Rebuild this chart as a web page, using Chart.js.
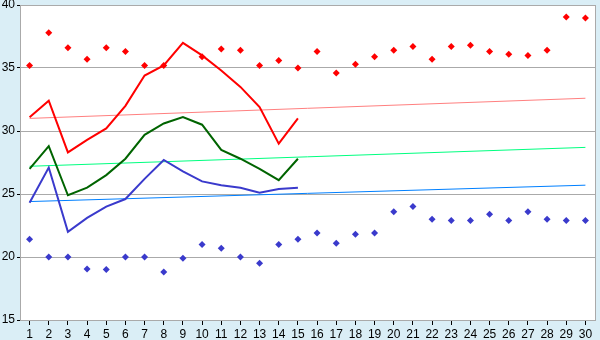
<!DOCTYPE html>
<html>
<head>
<meta charset="utf-8">
<script src="https://cdn.jsdelivr.net/npm/chart.js@4"></script>
<style>
  html, body { margin: 0; padding: 0; background: #DAEEF6; }
  #wrap { width: 600px; height: 340px; position: relative; }
</style>
</head>
<body>
<div id="wrap"><canvas id="c" width="600" height="340"></canvas></div>
<script>
const categories = ['1','2','3','4','5','6','7','8','9','10','11','12','13','14','15','16','17','18','19','20','21','22','23','24','25','26','27','28','29','30'];
const yTicks = [15, 20, 25, 30, 35, 40];

const redLine   = [31.1, 32.4, 28.3, 29.3, 30.2, 32.0, 34.4, 35.2, 37.0, 36.0, 34.8, 33.5, 31.9, 29.0, 31.0];
const greenLine = [27.0, 28.8, 24.9, 25.5, 26.5, 27.8, 29.7, 30.6, 31.1, 30.5, 28.5, 27.8, 27.0, 26.1, 27.8];
const blueLine  = [24.3, 27.1, 22.0, 23.1, 24.0, 24.6, 26.2, 27.7, 26.8, 26.0, 25.7, 25.5, 25.1, 25.4, 25.5];

const redPoints  = [35.2, 37.8, 36.6, 35.7, 36.6, 36.3, 35.2, 35.2, null, 35.9, 36.5, 36.4, 35.2, 35.6, 35.0,
                    36.3, 34.6, 35.3, 35.9, 36.4, 36.7, 35.7, 36.7, 36.8, 36.3, 36.1, 36.0, 36.4, 39.05, 38.97];
const bluePoints = [21.4, 20.0, 20.0, 19.05, 19.0, 20.0, 20.0, 18.8, 19.9, 21.0, 20.7, 20.0, 19.5, 21.0, 21.4,
                    21.9, 21.1, 21.8, 21.9, 23.6, 24.0, 23.0, 22.9, 22.9, 23.4, 22.9, 23.6, 23.0, 22.9, 22.9];

const redTrendEnds   = [31.0, 32.6];
const greenTrendEnds = [27.2, 28.7];
const blueTrendEnds  = [24.4, 25.7];

function ends(v) {
  return [{x: categories[0], y: v[0]}, {x: categories[categories.length - 1], y: v[1]}];
}

const bgPlugin = {
  id: 'bg',
  beforeDraw(chart) {
    const ctx = chart.ctx, a = chart.chartArea;
    ctx.save();
    ctx.fillStyle = '#DAEEF6';
    ctx.fillRect(0, 0, chart.width, chart.height);
    ctx.fillStyle = '#FFFFFF';
    ctx.fillRect(a.left, a.top, a.right - a.left, a.bottom - a.top);
    ctx.restore();
  },
  afterDraw(chart) {
    const ctx = chart.ctx, a = chart.chartArea;
    ctx.save();
    ctx.strokeStyle = '#AAAAAA';
    ctx.lineWidth = 1;
    ctx.beginPath();
    ctx.moveTo(Math.round(a.right) + 0.5, a.top);
    ctx.lineTo(Math.round(a.right) + 0.5, a.bottom);
    ctx.stroke();
    ctx.restore();
  }
};

const font = { family: 'Liberation Sans', size: 12 };

new Chart(document.getElementById('c'), {
  type: 'line',
  data: {
    labels: categories,
    datasets: [
      { data: ends(redTrendEnds), borderColor: '#FF8080', borderWidth: 1, pointRadius: 0, fill: false, order: 5 },
      { data: ends(greenTrendEnds), borderColor: '#00FF80', borderWidth: 1, pointRadius: 0, fill: false, order: 5 },
      { data: ends(blueTrendEnds), borderColor: '#0080FF', borderWidth: 1, pointRadius: 0, fill: false, order: 5 },
      { data: redLine, borderColor: '#FF0000', borderWidth: 2, pointRadius: 0, tension: 0, fill: false, order: 3 },
      { data: greenLine, borderColor: '#006400', borderWidth: 2, pointRadius: 0, tension: 0, fill: false, order: 3 },
      { data: blueLine, borderColor: '#3A3ACC', borderWidth: 2, pointRadius: 0, tension: 0, fill: false, order: 3 },
      { data: redPoints, showLine: false, pointStyle: 'rectRot', pointRadius: 3.5, pointBackgroundColor: '#FF0000', pointBorderWidth: 0, borderColor: '#FF0000', order: 1 },
      { data: bluePoints, showLine: false, pointStyle: 'rectRot', pointRadius: 3.5, pointBackgroundColor: '#3A3ACC', pointBorderWidth: 0, borderColor: '#3A3ACC', order: 1 }
    ]
  },
  options: {
    responsive: false,
    animation: false,
    events: [],
    layout: { padding: { top: 5, right: 5, left: 0, bottom: 0 } },
    plugins: { legend: { display: false }, tooltip: { enabled: false } },
    scales: {
      x: {
        type: 'category',
        offset: true,
        grid: { drawOnChartArea: false, drawTicks: true, tickLength: 5, tickColor: '#000000', offset: false },
        border: { color: '#AAAAAA' },
        ticks: { font: font, color: '#000000', padding: 2, maxRotation: 0, autoSkip: false },
        afterFit(s) { s.height = 20; s.paddingLeft = 0; s.paddingRight = 0; }
      },
      y: {
        min: 15, max: 40,
        afterBuildTicks(s) { s.ticks = yTicks.map(v => ({ value: v })); },
        grid: { color: '#AAAAAA', tickColor: '#000000', tickLength: 3 },
        border: { color: '#AAAAAA' },
        ticks: { font: font, color: '#000000', padding: 2 },
        afterFit(s) { s.width = 20; s.paddingTop = 0; s.paddingBottom = 0; }
      }
    }
  },
  plugins: [bgPlugin]
});
</script>
</body>
</html>
